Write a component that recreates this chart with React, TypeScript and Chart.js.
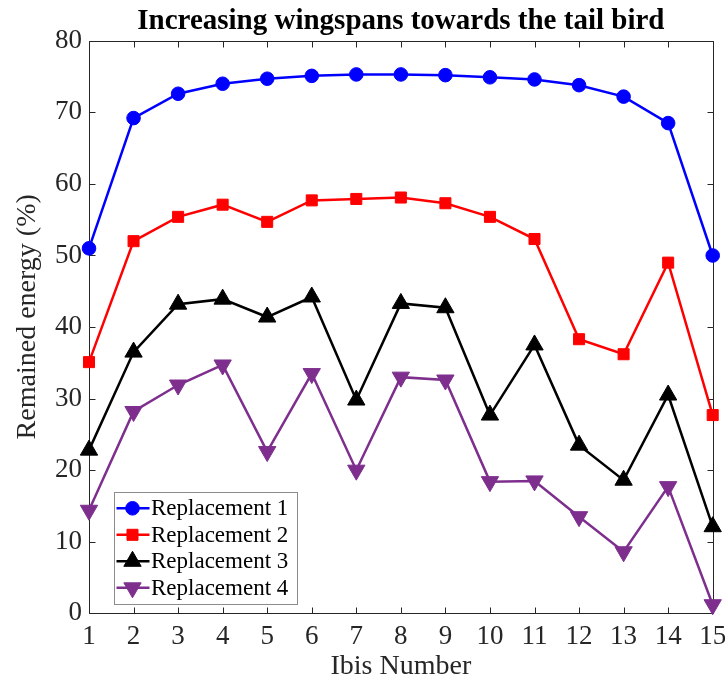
import React, { useEffect, useRef } from "react";
import { Chart, registerables } from "chart.js";

Chart.register(...registerables);

const ibisNumbers = ["1", "2", "3", "4", "5", "6", "7", "8", "9", "10", "11", "12", "13", "14", "15"];
const replacement1 = [51.0, 69.2, 72.6, 74.0, 74.7, 75.1, 75.3, 75.3, 75.2, 74.9, 74.6, 73.8, 72.2, 68.5, 50.0];
const replacement2 = [35.1, 52.0, 55.4, 57.1, 54.7, 57.7, 57.9, 58.1, 57.3, 55.4, 52.3, 38.3, 36.2, 49.0, 27.7];
const replacement3 = [22.8, 36.5, 43.2, 43.9, 41.4, 44.2, 29.8, 43.3, 42.7, 27.7, 37.5, 23.5, 18.6, 30.5, 12.1];
const replacement4 = [14.4, 28.2, 31.9, 34.7, 22.6, 33.5, 20.0, 33.0, 32.6, 18.4, 18.5, 13.5, 8.6, 17.7, 1.2];
const yTickValues = [0, 10, 20, 30, 40, 50, 60, 70, 80];
const seriesNames = ["Replacement 1", "Replacement 2", "Replacement 3", "Replacement 4"];

const SERIF = "'Liberation Serif', 'Times New Roman', serif";
const AXIS_GREY = "#262626";

function drawMarker(ctx: CanvasRenderingContext2D, style: string, rotation: number, r: number, x: number, y: number, color: string) {
  ctx.save();
  ctx.fillStyle = color;
  ctx.strokeStyle = color;
  ctx.lineWidth = 1;
  ctx.beginPath();
  if (style === "circle") {
    ctx.arc(x, y, r, 0, Math.PI * 2);
  } else if (style === "rect") {
    const h = Math.SQRT1_2 * r;
    ctx.rect(x - h, y - h, 2 * h, 2 * h);
  } else {
    let rad = (rotation * Math.PI) / 180;
    ctx.moveTo(x + Math.sin(rad) * r, y - Math.cos(rad) * r);
    rad += (2 * Math.PI) / 3;
    ctx.lineTo(x + Math.sin(rad) * r, y - Math.cos(rad) * r);
    rad += (2 * Math.PI) / 3;
    ctx.lineTo(x + Math.sin(rad) * r, y - Math.cos(rad) * r);
    ctx.closePath();
  }
  ctx.fill();
  ctx.stroke();
  ctx.restore();
}

const framePlugin = {
  id: "frame",
  beforeDatasetsDraw(chart: any) {
    const { ctx, chartArea: a, scales } = chart;
    const x = scales.x;
    const y = scales.y;
    ctx.save();
    ctx.strokeStyle = AXIS_GREY;
    ctx.lineWidth = 1;
    ctx.beginPath();
    const L = Math.round(a.left) + 0.5;
    const R = Math.round(a.right) + 0.5;
    const T = Math.round(a.top) + 0.5;
    const B = Math.round(a.bottom) + 0.5;
    ctx.rect(L, T, R - L, B - T);
    const tl = 6;
    ibisNumbers.forEach((_, i) => {
      const px = Math.round(x.getPixelForValue(i)) + 0.5;
      ctx.moveTo(px, B);
      ctx.lineTo(px, B - tl);
      ctx.moveTo(px, T);
      ctx.lineTo(px, T + tl);
    });
    yTickValues.forEach((v) => {
      const py = Math.round(y.getPixelForValue(v)) + 0.5;
      ctx.moveTo(L, py);
      ctx.lineTo(L + tl, py);
      ctx.moveTo(R, py);
      ctx.lineTo(R - tl, py);
    });
    ctx.stroke();
    ctx.restore();
  },
  afterDraw(chart: any) {
    const { ctx, chartArea: a } = chart;
    ctx.save();
    ctx.fillStyle = AXIS_GREY;
    ctx.font = `28px ${SERIF}`;
    ctx.textAlign = "center";
    ctx.textBaseline = "alphabetic";
    ctx.fillText("Ibis Number", (a.left + a.right) / 2, a.bottom + 61);
    ctx.translate(35, a.top + 276);
    ctx.rotate(-Math.PI / 2);
    ctx.fillText("Remained energy (%)", 0, 0);
    ctx.restore();

    // legend
    ctx.save();
    const boxL = a.left + 24.5;
    const boxR = a.left + 207;
    const boxB = a.bottom - 10;
    const boxT = boxB - 111.5;
    ctx.fillStyle = "#ffffff";
    ctx.fillRect(boxL, boxT, boxR - boxL, boxB - boxT);
    ctx.strokeStyle = "#8c8c8c";
    ctx.lineWidth = 1;
    ctx.strokeRect(Math.round(boxL) + 0.5, Math.round(boxT) + 0.5, Math.round(boxR - boxL), Math.round(boxB - boxT));
    ctx.font = `23px ${SERIF}`;
    ctx.textAlign = "left";
    ctx.textBaseline = "middle";
    chart.data.datasets.forEach((ds: any, i: number) => {
      const cy = boxT + 16.5 + i * 26.5;
      ctx.strokeStyle = ds.borderColor;
      ctx.lineWidth = 2.5;
      ctx.beginPath();
      ctx.moveTo(boxL + 3, cy);
      ctx.lineTo(boxL + 36, cy);
      ctx.stroke();
      drawMarker(ctx, ds.pointStyle, ds.pointRotation || 0, ds.pointRadius, boxL + 19, cy, ds.borderColor);
      ctx.fillStyle = "#000000";
      ctx.fillText(seriesNames[i], boxL + 37.5, cy + 1);
    });
    ctx.restore();
  },
};

export default function App() {
  const ref = useRef<HTMLCanvasElement>(null);
  useEffect(() => {
    document.body.style.margin = "0";
    const canvas = ref.current!;
    const mk = (label: string, data: number[], color: string, style: string, radius: number, rotation = 0) => ({
      label,
      data,
      borderColor: color,
      backgroundColor: color,
      pointBackgroundColor: color,
      pointBorderColor: color,
      borderWidth: 2.5,
      pointStyle: style,
      pointRadius: radius,
      pointHoverRadius: radius,
      pointRotation: rotation,
      pointBorderWidth: 1,
      tension: 0,
      clip: false,
      fill: false,
    });
    const chart = new Chart(canvas, {
      type: "line",
      data: {
        labels: ibisNumbers,
        datasets: [
          mk(seriesNames[0], replacement1, "#0000ff", "circle", 6.8),
          mk(seriesNames[1], replacement2, "#ff0000", "rect", 7.8),
          mk(seriesNames[2], replacement3, "#000000", "triangle", 10),
          mk(seriesNames[3], replacement4, "#7e2f8e", "triangle", 10, 180),
        ] as any,
      },
      options: {
        responsive: false,
        animation: false,
        layout: { padding: { left: 0, right: 12.3, top: 0, bottom: 0 } },
        plugins: {
          legend: { display: false },
          tooltip: { enabled: false },
          title: {
            display: true,
            text: "Increasing wingspans towards the tail bird",
            color: "#000000",
            fullSize: false,
            font: { family: SERIF, size: 29, weight: "bold", lineHeight: 1.2 },
            padding: { top: 4, bottom: 2 },
          },
        },
        scales: {
          x: {
            type: "category",
            offset: false,
            grid: { display: false, drawTicks: false },
            border: { display: false },
            ticks: {
              color: AXIS_GREY,
              font: { family: SERIF, size: 27 },
              padding: 7,
              maxRotation: 0,
              autoSkip: false,
            },
            afterFit(scale: any) {
              scale.height = 67.7;
              scale.paddingLeft = 0;
              scale.paddingRight = 0;
            },
          },
          y: {
            min: 0,
            max: 80,
            grid: { display: false, drawTicks: false },
            border: { display: false },
            ticks: {
              stepSize: 10,
              color: AXIS_GREY,
              font: { family: SERIF, size: 27 },
              padding: 7,
            },
            afterFit(scale: any) {
              scale.width = 89;
              scale.paddingTop = 0;
              scale.paddingBottom = 0;
            },
          },
        },
      } as any,
      plugins: [framePlugin],
    });
    return () => chart.destroy();
  }, []);
  return (
    <div style={{ width: 725, height: 681 }}>
      <canvas ref={ref} width={725} height={681} style={{ display: "block" }} />
    </div>
  );
}
